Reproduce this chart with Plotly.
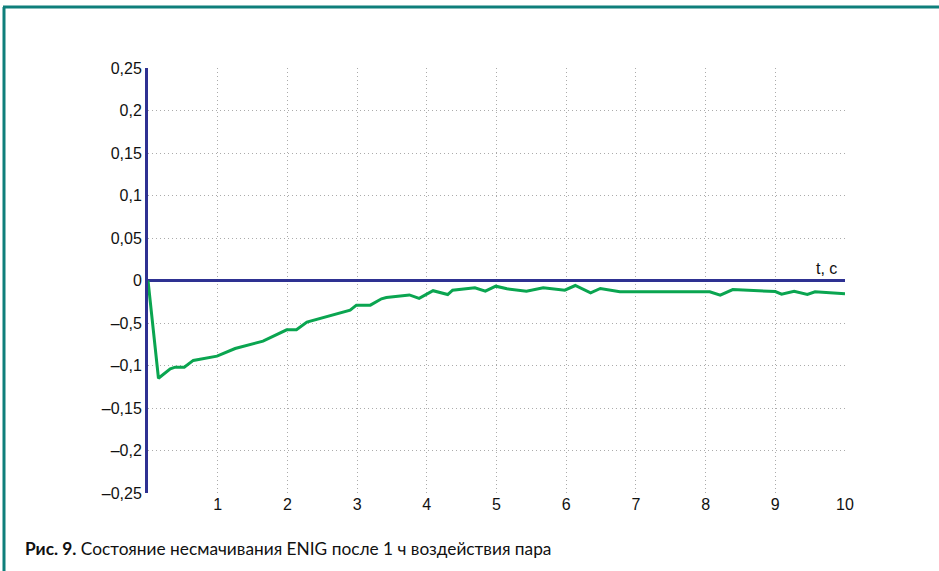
import plotly.graph_objects as go

# Data
t_values = [0.0, 0.15, 0.32, 0.39, 0.52, 0.65, 0.99, 1.25, 1.65, 1.99, 2.13, 2.28, 2.90, 2.99,
            3.19, 3.35, 3.42, 3.75, 3.89, 4.09, 4.30, 4.37, 4.69, 4.84, 4.99, 5.15, 5.43, 5.67,
            5.98, 6.13, 6.35, 6.49, 6.77, 8.06, 8.21, 8.39, 9.00, 9.09, 9.27, 9.46, 9.57, 10.0]
y_values = [0.0, -0.115, -0.104, -0.102, -0.102, -0.094, -0.089, -0.080, -0.0714, -0.058, -0.058,
            -0.049, -0.035, -0.029, -0.029, -0.0215, -0.020, -0.017, -0.021, -0.012, -0.0165,
            -0.0114, -0.0086, -0.0126, -0.0067, -0.0098, -0.0126, -0.0086, -0.0114, -0.0059,
            -0.0145, -0.0094, -0.0133, -0.0133, -0.0173, -0.0106, -0.013, -0.016, -0.0126,
            -0.0165, -0.0133, -0.0157]

y_tick_vals = [0.25, 0.2, 0.15, 0.1, 0.05, 0, -0.05, -0.1, -0.15, -0.2, -0.25]
y_tick_text = ["0,25", "0,2", "0,15", "0,1", "0,05", "0", "–0,5", "–0,1", "–0,15", "–0,2", "–0,25"]
x_tick_vals = [1, 2, 3, 4, 5, 6, 7, 8, 9, 10]
x_tick_text = ["1", "2", "3", "4", "5", "6", "7", "8", "9", "10"]

axis_label = "t, c"
caption = "<b>Рис. 9.</b> Состояние несмачивания ENIG после 1 ч воздействия пара"

W, H = 939, 571
L, R, T, B = 148, 94, 68, 78
pw, ph = W - L - R, H - T - B

def px_to_paper_x(px):
    return (px - L) / pw

def px_to_paper_y(py):
    return (H - B - py) / ph

fig = go.Figure()
fig.add_trace(go.Scatter(
    x=t_values, y=y_values, mode="lines",
    line=dict(color="#0aa550", width=3),
    hoverinfo="skip", showlegend=False,
))

tick_font = dict(family="Liberation Sans, Arial, sans-serif", size=16, color="#111111")
grid_style = dict(showgrid=True, gridcolor="#ababab", gridwidth=1, griddash="1px,3px")

fig.update_layout(
    width=W, height=H,
    margin=dict(l=L, r=R, t=T, b=B),
    paper_bgcolor="white", plot_bgcolor="white",
    showlegend=False,
    xaxis=dict(
        range=[0, 10], tickvals=x_tick_vals, ticktext=x_tick_text,
        zeroline=False, showline=False, ticks="", tickfont=tick_font,
        fixedrange=True, **grid_style,
    ),
    yaxis=dict(
        range=[-0.25, 0.25], tickvals=y_tick_vals, ticktext=y_tick_text,
        zeroline=True, zerolinecolor="#2e3192", zerolinewidth=3,
        showline=True, linecolor="#2e3192", linewidth=3, ticks="",
        tickfont=tick_font, fixedrange=True, **grid_style,
    ),
    annotations=[
        dict(text=axis_label, x=10, y=0.0, xref="x", yref="y",
             xanchor="right", yanchor="bottom", yshift=2, xshift=-6,
             showarrow=False, font=tick_font),
        dict(text=caption, x=px_to_paper_x(23), y=px_to_paper_y(548),
             xref="paper", yref="paper", xanchor="left", yanchor="middle",
             showarrow=False,
             font=dict(family="Lato, Noto Sans, sans-serif", size=17.3, color="#111")),
    ],
    shapes=[
        dict(type="line", xref="paper", yref="paper",
             x0=px_to_paper_x(4), y0=px_to_paper_y(H + 5),
             x1=px_to_paper_x(4), y1=px_to_paper_y(7),
             line=dict(color="#0e7f7b", width=3)),
        dict(type="line", xref="paper", yref="paper",
             x0=px_to_paper_x(3), y0=px_to_paper_y(7),
             x1=px_to_paper_x(W + 5), y1=px_to_paper_y(7),
             line=dict(color="#0e7f7b", width=3)),
    ],
)

fig.write_html(
    "out.html",
    config={"displayModeBar": False},
    post_script="document.body.style.margin='0';document.body.style.overflow='hidden';",
)
